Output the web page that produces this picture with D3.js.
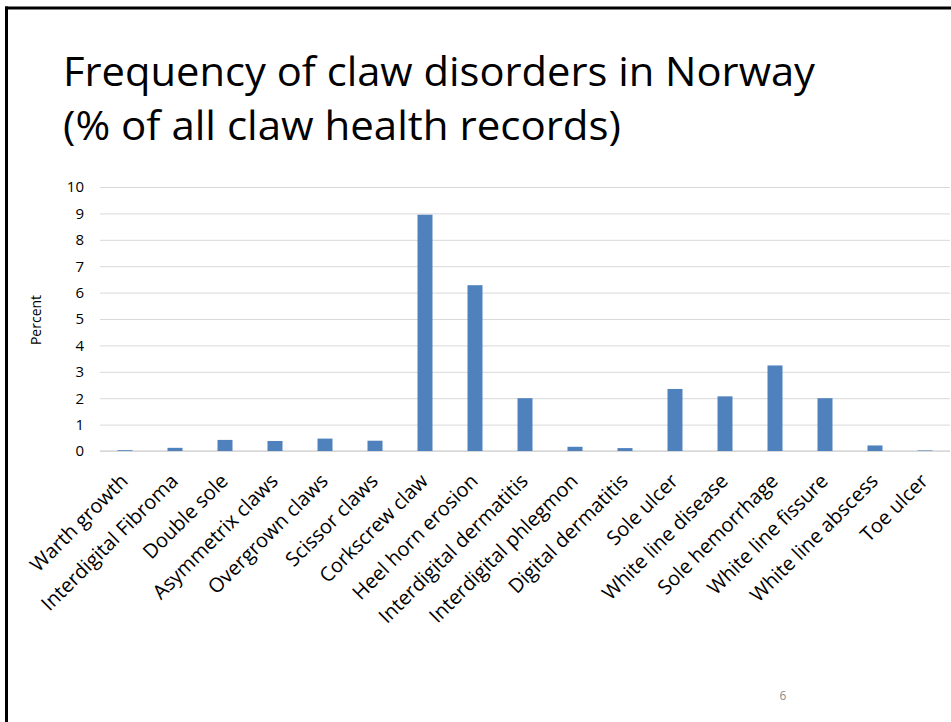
<!DOCTYPE html>
<html>
<head>
<meta charset="utf-8">
<script src="https://cdn.jsdelivr.net/npm/d3@7"></script>
<style>
  html, body { margin: 0; padding: 0; background: #fff; }
  svg { display: block; }
</style>
</head>
<body>
<svg id="chart" width="951" height="722"></svg>
<script>
const titleLines = ["Frequency of claw disorders in Norway", "(% of all claw health records)"];
const categories = ["Warth growth", "Interdigital Fibroma", "Double sole", "Asymmetrix claws",
  "Overgrown claws", "Scissor claws", "Corkscrew claw", "Heel horn erosion",
  "Interdigital dermatitis", "Interdigital phlegmon", "Digital dermatitis", "Sole ulcer",
  "White line disease", "Sole hemorrhage", "White line fissure", "White line abscess", "Toe ulcer"];
const values = [0.03, 0.12, 0.42, 0.38, 0.47, 0.39, 8.95, 6.28, 2.0, 0.16, 0.11, 2.35, 2.07, 3.24, 2.0, 0.21, 0.02];
const yTicks = [0, 1, 2, 3, 4, 5, 6, 7, 8, 9, 10];
const yLabel = "Percent";
const pageNumber = "6";

const svg = d3.select("#chart");
const FONT = "'Open Sans', 'Liberation Sans', sans-serif";

// slide frame
svg.append("line").attr("x1", 6.5).attr("x2", 6.5).attr("y1", 6.5).attr("y2", 722)
  .attr("stroke", "#000").attr("stroke-width", 3);
svg.append("line").attr("x1", 5).attr("x2", 951).attr("y1", 8).attr("y2", 8)
  .attr("stroke", "#000").attr("stroke-width", 3);

// title
const titleWidths = [752, 558];
const titleY = [86, 140];
titleLines.forEach((t, i) => {
  svg.append("text")
    .attr("x", 63).attr("y", titleY[i])
    .attr("font-family", FONT).attr("font-size", 40)
    .attr("fill", "#000")
    .attr("textLength", titleWidths[i]).attr("lengthAdjust", "spacingAndGlyphs")
    .text(t);
});

// scales
const x = d3.scaleBand().domain(categories).range([100, 950]).paddingInner(0.7).paddingOuter(0.35);
const y = d3.scaleLinear().domain([0, 10]).range([451, 187]);

// gridlines
const grid = svg.append("g").attr("transform", "translate(100,0)")
  .call(d3.axisLeft(y).tickValues(yTicks).tickSize(-850).tickFormat(""));
grid.select(".domain").remove();
grid.selectAll(".tick line").attr("stroke", "#d9d9d9").attr("stroke-width", 1);

// y tick labels
const yAxis = svg.append("g").attr("transform", "translate(84,0)")
  .call(d3.axisLeft(y).tickValues(yTicks).tickSize(0).tickPadding(0).tickFormat(d3.format("d")));
yAxis.select(".domain").remove();
yAxis.selectAll("text").attr("font-family", FONT).attr("font-size", 15).attr("fill", "#000");

// baseline
svg.append("line").attr("x1", 100).attr("x2", 950).attr("y1", y(0)).attr("y2", y(0))
  .attr("stroke", "#d9d9d9").attr("stroke-width", 1.5);

// bars
svg.append("g").selectAll("rect").data(values).join("rect")
  .attr("x", (d, i) => x(categories[i]))
  .attr("y", d => y(d))
  .attr("width", x.bandwidth())
  .attr("height", d => y(0) - y(d))
  .attr("fill", "#4f81bd");

// x labels
const xAxis = svg.append("g").attr("transform", `translate(0,${y(0)})`)
  .call(d3.axisBottom(x).tickSize(0).tickPadding(0));
xAxis.select(".domain").remove();
xAxis.selectAll("text")
  .attr("font-family", FONT).attr("font-size", 20).attr("fill", "#000")
  .attr("text-anchor", "end")
  .attr("dy", null).attr("y", null)
  .attr("transform", "translate(-1,26) rotate(-45)")
  .attr("dominant-baseline", "central");

// y label
svg.append("text")
  .attr("transform", "translate(41,320) rotate(-90)")
  .attr("text-anchor", "middle")
  .attr("font-family", FONT).attr("font-size", 14).attr("fill", "#000")
  .text(yLabel);

// page number
svg.append("text").attr("x", 783).attr("y", 700).attr("text-anchor", "middle")
  .attr("font-family", FONT).attr("font-size", 12).attr("fill", "#8b8b8b")
  .text(pageNumber);
</script>
</body>
</html>
